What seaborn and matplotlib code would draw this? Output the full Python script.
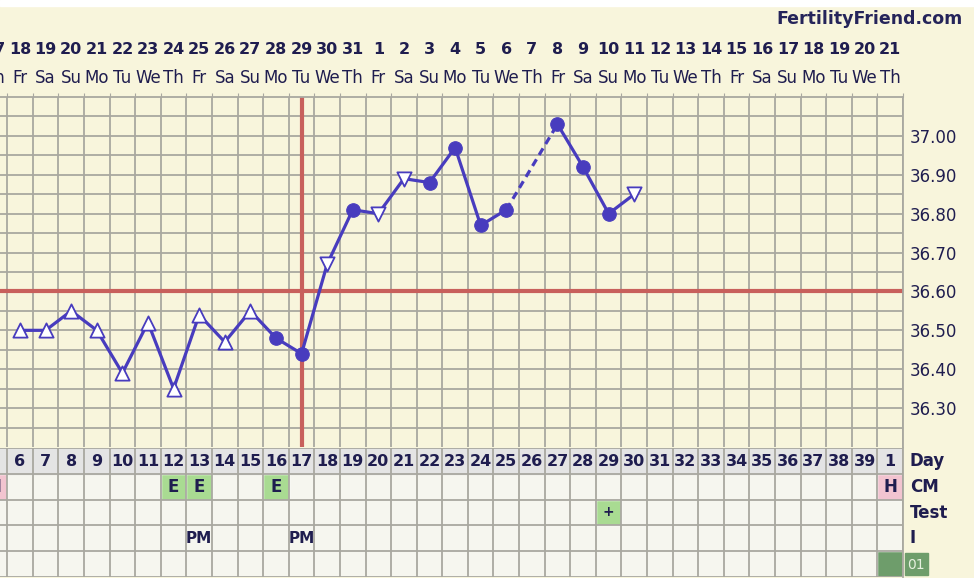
import matplotlib.pyplot as plt
import matplotlib.transforms as mtransforms
from matplotlib.patches import Rectangle
from matplotlib.ticker import FormatStrFormatter
import seaborn as sns
import pandas as pd
import numpy as np

# header: calendar date and weekday for each visible cycle day (5..40)
cycle_days = list(range(5, 41))
dates = [17, 18, 19, 20, 21, 22, 23, 24, 25, 26, 27, 28, 29, 30, 31,
         1, 2, 3, 4, 5, 6, 7, 8, 9, 10, 11, 12, 13, 14, 15, 16, 17, 18, 19, 20, 21]
weekdays = ['Th', 'Fr', 'Sa', 'Su', 'Mo', 'Tu', 'We'] * 5 + ['Th']
day_row = [str(d) for d in range(5, 40)] + ['1']

# temperatures (day 26 missing -> dashed bridge)
temp_days = [6, 7, 8, 9, 10, 11, 12, 13, 14, 15, 16, 17, 18, 19, 20, 21, 22, 23, 24, 25,
             27, 28, 29, 30]
temps = [36.50, 36.50, 36.55, 36.50, 36.39, 36.52, 36.35, 36.54, 36.47, 36.55,
         36.48, 36.44, 36.67, 36.81, 36.80, 36.89, 36.88, 36.97, 36.77, 36.81,
         37.03, 36.92, 36.80, 36.85]
marker_kind = ['up', 'up', 'up', 'up', 'up', 'up', 'up', 'up', 'up', 'up',
               'dot', 'dot', 'down', 'dot', 'down', 'down', 'dot', 'dot', 'dot', 'dot',
               'dot', 'dot', 'dot', 'down']
segment = [1] * 20 + [2] * 4

temp_ticks = [36.30, 36.40, 36.50, 36.60, 36.70, 36.80, 36.90, 37.00]
coverline = 36.60
ovulation_day = 17

# chart rows below the graph
cm_days = [5, 12, 13, 16, 40]
cm_codes = ['H', 'E', 'E', 'E', 'H']
test_days = [29]
test_codes = ['+']
pm_days = [13, 17]
last_row_days = [40]
row_names = ['Day', 'CM', 'Test', 'I']

df = pd.DataFrame({'day': temp_days, 'temp': temps, 'kind': marker_kind, 'seg': segment})

CREAM = '#F8F5DC'
GRID = '#A9A8A0'
PURPLE = '#483CBE'
RED = '#C8605C'
NAVY = '#1F1D4F'

sns.set_style('white')
plt.rcParams['font.family'] = ['DejaVu Sans']

fig = plt.figure(figsize=(9.74, 5.78), dpi=100, facecolor=CREAM)
fig.patches.append(Rectangle((0, 1 - 6 / 578), 1, 6 / 578, transform=fig.transFigure,
                             color='white', zorder=0))

xlim = (5.218, 40.5)
ax = fig.add_axes([0, 131 / 578, 903 / 974, 350 / 578])
ax.set_facecolor(CREAM)
ax.set_xlim(*xlim)
ax.set_ylim(36.20, 37.10)

# grid
ax.set_xticks(np.arange(5.5, 40.6, 1.0))
ax.set_yticks(temp_ticks)
ax.set_yticks(np.arange(36.25, 37.10, 0.10), minor=True)
ax.grid(True, which='both', color=GRID, lw=1.3)
ax.set_axisbelow(True)
ax.yaxis.tick_right()
ax.yaxis.set_major_formatter(FormatStrFormatter('%.2f'))
ax.tick_params(axis='y', which='both', length=0, pad=5, labelsize=12, labelcolor=NAVY)
ax.tick_params(axis='x', top=True, bottom=False, labeltop=False, labelbottom=False,
               length=3, direction='out', color=GRID)
for side in ['left', 'bottom']:
    ax.spines[side].set_visible(False)
for side in ['top', 'right']:
    ax.spines[side].set_color(GRID)
    ax.spines[side].set_linewidth(1.3)

# coverline and ovulation line
ax.axhline(coverline, color=RED, lw=3, zorder=2)
ax.axvline(ovulation_day, color=RED, lw=3, zorder=2)

# temperature line
sns.lineplot(data=df, x='day', y='temp', units='seg', estimator=None, color=PURPLE,
             lw=2.3, ax=ax, zorder=3)
gap = df[df['day'].isin([25, 27])]
sns.lineplot(data=gap, x='day', y='temp', estimator=None, color=PURPLE, lw=2.3,
             linestyle=(0, (2.4, 1.6)), ax=ax, zorder=3)

dots = df[df['kind'] == 'dot']
ups = df[df['kind'] == 'up']
downs = df[df['kind'] == 'down']
sns.scatterplot(data=dots, x='day', y='temp', s=95, color=PURPLE, edgecolor=PURPLE,
                ax=ax, zorder=4)
sns.scatterplot(data=ups, x='day', y='temp', marker='^', s=105, color='white',
                edgecolor=PURPLE, linewidth=1.3, ax=ax, zorder=4)
sns.scatterplot(data=downs, x='day', y='temp', marker='v', s=105, color='white',
                edgecolor=PURPLE, linewidth=1.3, ax=ax, zorder=4)
ax.set_xlabel('')
ax.set_ylabel('')

# header
trans = mtransforms.blended_transform_factory(ax.transData, fig.transFigure)
for d, dt, wd in zip(cycle_days, dates, weekdays):
    ax.text(d, 1 - 50 / 578, str(dt), transform=trans, ha='center', va='center',
            fontsize=11.5, fontweight='bold', color=NAVY)
    ax.text(d, 1 - 78 / 578, wd, transform=trans, ha='center', va='center',
            fontsize=12, color=NAVY)
fig.text(963 / 974, 1 - 19 / 578, 'FertilityFriend.com', ha='right', va='center',
         fontsize=12.5, fontweight='bold', color='#25245A')

# table below
tab = fig.add_axes([0, 1 / 578, 903 / 974, 129 / 578])
tab.set_facecolor('#F6F6EF')
tab.set_xlim(*xlim)
tab.set_ylim(5, 0)
tab.axhspan(0, 1, color='#E4E4E4', zorder=0)
cm_colors = ['#F2C4D0' if c == 'H' else '#A9DB92' for c in cm_codes]
tab.bar(cm_days, 1, bottom=1, width=1, color=cm_colors, zorder=1)
tab.bar(test_days, 1, bottom=2, width=1, color='#A9DB92', zorder=1)
tab.bar(last_row_days, 1, bottom=4, width=1, color='#6E9D6B', zorder=1)
tab.set_xticks(np.arange(5.5, 40.6, 1.0))
tab.set_yticks([0, 1, 2, 3, 4, 5])
tab.grid(True, color=GRID, lw=1.3)
tab.set_axisbelow(False)
tab.tick_params(length=0, labelleft=False, labelbottom=False)
for s in tab.spines.values():
    s.set_visible(False)
tab.spines['right'].set_visible(True)
tab.spines['right'].set_color(GRID)
tab.spines['right'].set_linewidth(1.3)

for d, lab in zip(cycle_days, day_row):
    tab.text(d, 0.52, lab, ha='center', va='center', fontsize=11.5,
             fontweight='bold', color=NAVY, zorder=4)
for d, c in zip(cm_days, cm_codes):
    tab.text(d, 1.52, c, ha='center', va='center', fontsize=12,
             fontweight='bold', color=NAVY, zorder=4)
for d, c in zip(test_days, test_codes):
    tab.text(d, 2.5, c, ha='center', va='center', fontsize=10,
             fontweight='bold', color=NAVY, zorder=4)
for d in pm_days:
    tab.text(d, 3.52, 'PM', ha='center', va='center', fontsize=11,
             fontweight='bold', color=NAVY, zorder=4)
for i, name in enumerate(row_names):
    tab.text(40.77, i + 0.5, name, ha='left', va='center', fontsize=12,
             fontweight='bold', color=NAVY, clip_on=False)
tab.add_patch(Rectangle((40.58, 4.08), 0.9, 0.86, color='#6E9D6B', clip_on=False))
tab.text(40.65, 4.52, '01', ha='left', va='center', fontsize=10, color='#E6F0DE',
         clip_on=False)

fig.savefig('out.png', dpi=100, facecolor=CREAM)
